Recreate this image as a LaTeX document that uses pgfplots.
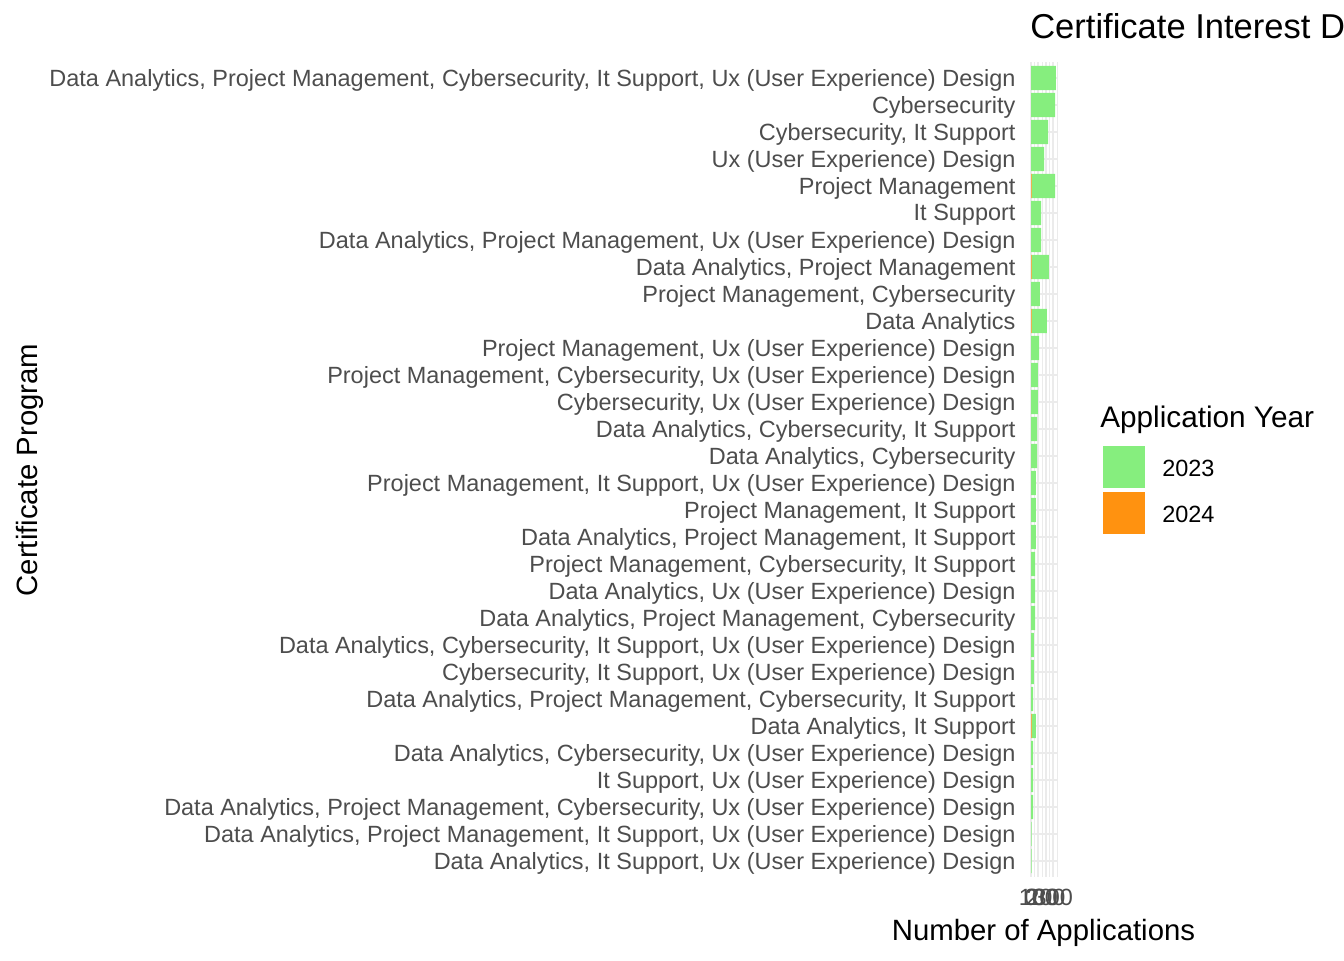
\documentclass[border=0pt]{standalone}
\usepackage{fontspec}
\setmainfont{Liberation Sans}
\usepackage{pgfplots}
\pgfplotsset{compat=1.18}
\definecolor{bargreen}{RGB}{134,238,126}
\definecolor{barorange}{RGB}{255,146,16}
\definecolor{gridgrey}{RGB}{235,235,235}
\definecolor{textgrey}{RGB}{77,77,77}
\begin{document}
\begin{tikzpicture}
\path[use as bounding box, clip] (0,0) rectangle (1008pt,720pt);
\begin{axis}[
  at={(772.3pt,62.1pt)}, anchor=south west,
  scale only axis, width=20.85pt, height=611.5pt,
  xbar stacked, bar width=0.9,
  xmin=-17, xmax=357,
  ymin=0.4, ymax=30.6, y dir=reverse,
  xtick={0,100,200,300}, minor xtick={50,150,250,350},
  ytick={1,...,30},
  yticklabels={
    {Data Analytics, Project Management, Cybersecurity, It Support, Ux (User Experience) Design},
    {Cybersecurity},
    {Cybersecurity, It Support},
    {Ux (User Experience) Design},
    {Project Management},
    {It Support},
    {Data Analytics, Project Management, Ux (User Experience) Design},
    {Data Analytics, Project Management},
    {Project Management, Cybersecurity},
    {Data Analytics},
    {Project Management, Ux (User Experience) Design},
    {Project Management, Cybersecurity, Ux (User Experience) Design},
    {Cybersecurity, Ux (User Experience) Design},
    {Data Analytics, Cybersecurity, It Support},
    {Data Analytics, Cybersecurity},
    {Project Management, It Support, Ux (User Experience) Design},
    {Project Management, It Support},
    {Data Analytics, Project Management, It Support},
    {Project Management, Cybersecurity, It Support},
    {Data Analytics, Ux (User Experience) Design},
    {Data Analytics, Project Management, Cybersecurity},
    {Data Analytics, Cybersecurity, It Support, Ux (User Experience) Design},
    {Cybersecurity, It Support, Ux (User Experience) Design},
    {Data Analytics, Project Management, Cybersecurity, It Support},
    {Data Analytics, It Support},
    {Data Analytics, Cybersecurity, Ux (User Experience) Design},
    {It Support, Ux (User Experience) Design},
    {Data Analytics, Project Management, Cybersecurity, Ux (User Experience) Design},
    {Data Analytics, Project Management, It Support, Ux (User Experience) Design},
    {Data Analytics, It Support, Ux (User Experience) Design}},
  axis line style={draw=none},
  major tick length=0pt, minor tick length=0pt,
  xmajorgrids, ymajorgrids, xminorgrids,
  major grid style={gridgrey, line width=1.5pt},
  minor grid style={gridgrey, line width=0.75pt},
  /pgf/number format/assume math mode=true,
  tick label style={font=\fontsize{17.6}{20}\selectfont, text=textgrey},
  yticklabel style={inner sep=0pt, xshift=-10.5pt, yshift=-1.5pt},
  xticklabel style={inner sep=0pt, yshift=-8.5pt},
  clip=false,
]
\addplot[fill=barorange, draw=none] coordinates {
(0,1) (0,2) (0,3) (0,4) (10,5) (0,6) (0,7) (8,8) (0,9) (8,10)
(0,11) (0,12) (0,13) (0,14) (0,15) (0,16) (0,17) (0,18) (0,19) (0,20)
(0,21) (0,22) (0,23) (0,24) (8,25) (0,26) (0,27) (0,28) (0,29) (0,30)};
\addplot[fill=bargreen, draw=none] coordinates {
(336,1) (323,2) (229,3) (175,4) (313,5) (135,6) (135,7) (234,8) (121,9) (207,10)
(108,11) (94,12) (94,13) (81,14) (81,15) (67,16) (67,17) (67,18) (54,19) (54,20)
(54,21) (40,22) (40,23) (27,24) (59,25) (27,26) (27,27) (27,28) (10,29) (8,30)};
\end{axis}
% titles
\node[anchor=base west, inner sep=0pt, font=\fontsize{25.9}{30}\selectfont] at (772.5pt,690.75pt) {Certificate Interest Distribution by Application Year};
\node[anchor=base, inner sep=0pt, font=\fontsize{22}{26}\selectfont] at (782.6pt,15pt) {Number of Applications};
\node[anchor=base, rotate=90, inner sep=0pt, font=\fontsize{22}{26}\selectfont] at (27.75pt,367.5pt) {Certificate Program};
% legend
\node[anchor=base west, inner sep=0pt, font=\fontsize{22.3}{26}\selectfont] at (825pt,399pt) {Application Year};
\fill[bargreen] (827.25pt,354pt) rectangle (858.75pt,385.5pt);
\fill[barorange] (827.25pt,319.5pt) rectangle (858.75pt,351pt);
\node[anchor=west, inner sep=0pt, font=\fontsize{17.6}{20}\selectfont] at (871.5pt,368.5pt) {2023};
\node[anchor=west, inner sep=0pt, font=\fontsize{17.6}{20}\selectfont] at (871.5pt,334pt) {2024};
\end{tikzpicture}
\end{document}
